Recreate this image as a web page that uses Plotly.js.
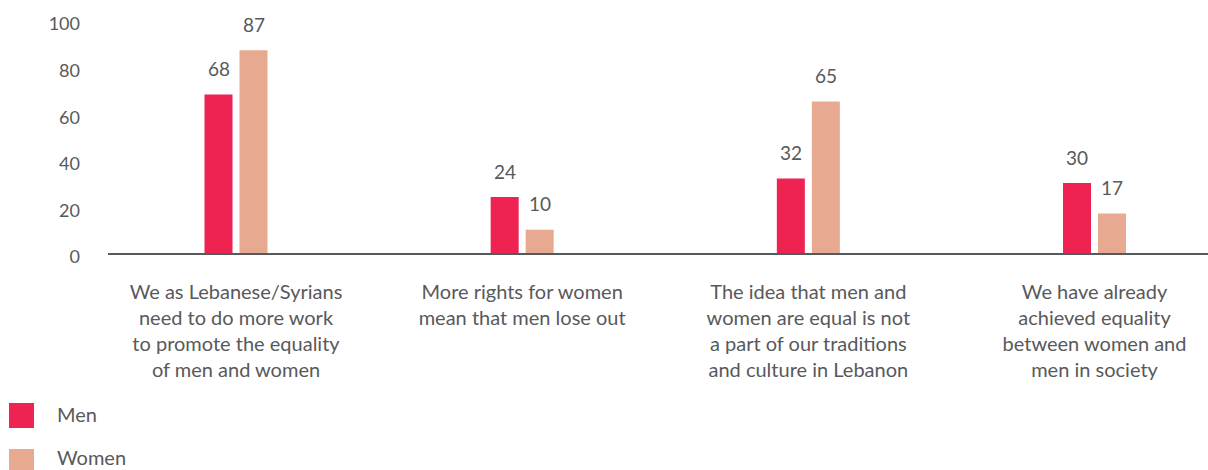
<!DOCTYPE html>
<html>
<head>
<meta charset="utf-8">
<script src="https://cdn.plot.ly/plotly-3.0.1.min.js"></script>
<style>html,body{margin:0;padding:0;background:#fff;}#chart{width:1208px;height:470px;}</style>
</head>
<body>
<div id="chart"></div>
<script>
const categories = [
  "We as Lebanese/Syrians<br>need to do more work<br>to promote the equality<br>of men and women",
  "More rights for women<br>mean that men lose out",
  "The idea that men and<br>women are equal is not<br>a part of our traditions<br>and culture in Lebanon",
  "We have already<br>achieved equality<br>between women and<br>men in society"
];
const seriesNames = ["Men", "Women"];
const menValues = [68, 24, 32, 30];
const womenValues = [87, 10, 65, 17];
const yTicks = [0, 20, 40, 60, 80, 100];

const colors = ["#ee2352", "#e7a990"];
const textColor = "#58595b";
const font = "Lato, 'Open Sans', sans-serif";

const W = 1208, H = 470;
const M = {l: 108, r: 0, t: 20, b: 217};
const plotW = W - M.l - M.r, plotH = H - M.t - M.b;
const px2paperX = x => (x - M.l) / plotW;
const px2paperY = y => (H - M.b - y) / plotH;

const idx = categories.map((_, i) => i);
const allValues = [menValues, womenValues];

const traces = allValues.map((vals, k) => ({
  type: "bar",
  name: seriesNames[k],
  x: idx,
  y: vals,
  marker: {color: colors[k], line: {width: 0}},
  hoverinfo: "skip",
  showlegend: false
}));

const annotations = [];
allValues.forEach((vals, k) => {
  vals.forEach((v, i) => {
    annotations.push({
      x: i, y: v, xref: "x", yref: "y",
      text: String(v), showarrow: false,
      xanchor: "center", yanchor: "middle",
      xshift: k === 0 ? -17.5 : 17.5, yshift: 26,
      font: {family: font, size: 19, color: textColor}
    });
  });
});

// legend (manual, to match large square swatches)
const shapes = [];
seriesNames.forEach((name, k) => {
  const top = 403 + k * 46;
  shapes.push({
    type: "rect", xref: "paper", yref: "paper",
    x0: px2paperX(9), x1: px2paperX(34),
    y0: px2paperY(top + 25), y1: px2paperY(top),
    fillcolor: colors[k], line: {width: 0}
  });
  annotations.push({
    xref: "paper", yref: "paper",
    x: px2paperX(55), y: px2paperY(top + 10.5 - k * 2.5),
    text: name, showarrow: false, xanchor: "left", yanchor: "middle",
    font: {family: font, size: 20, color: textColor}
  });
});

const c0 = 236, step = 286.17;
const layout = {
  width: W, height: H,
  margin: M,
  paper_bgcolor: "#fff", plot_bgcolor: "#fff",
  barmode: "group",
  bargap: 1 - 70 / step,
  bargroupgap: 0.2,
  showlegend: false,
  font: {family: font, color: textColor},
  xaxis: {
    range: [(M.l - c0) / step, (W - M.r - c0) / step],
    tickvals: idx, ticktext: categories,
    showline: true, linecolor: "#555a5c", linewidth: 2,
    showgrid: false, zeroline: false, ticks: "",
    ticklabelstandoff: 20,
    tickfont: {family: font, size: 20, color: textColor},
    fixedrange: true
  },
  yaxis: {
    range: [0, 100],
    tickvals: yTicks,
    showline: false, showgrid: false, zeroline: false, ticks: "",
    ticklabelstandoff: 27,
    ticklabelshift: 4,
    tickfont: {family: font, size: 18, color: textColor},
    fixedrange: true
  },
  annotations: annotations,
  shapes: shapes
};

Plotly.newPlot("chart", traces, layout, {displayModeBar: false, staticPlot: true});
</script>
</body>
</html>
